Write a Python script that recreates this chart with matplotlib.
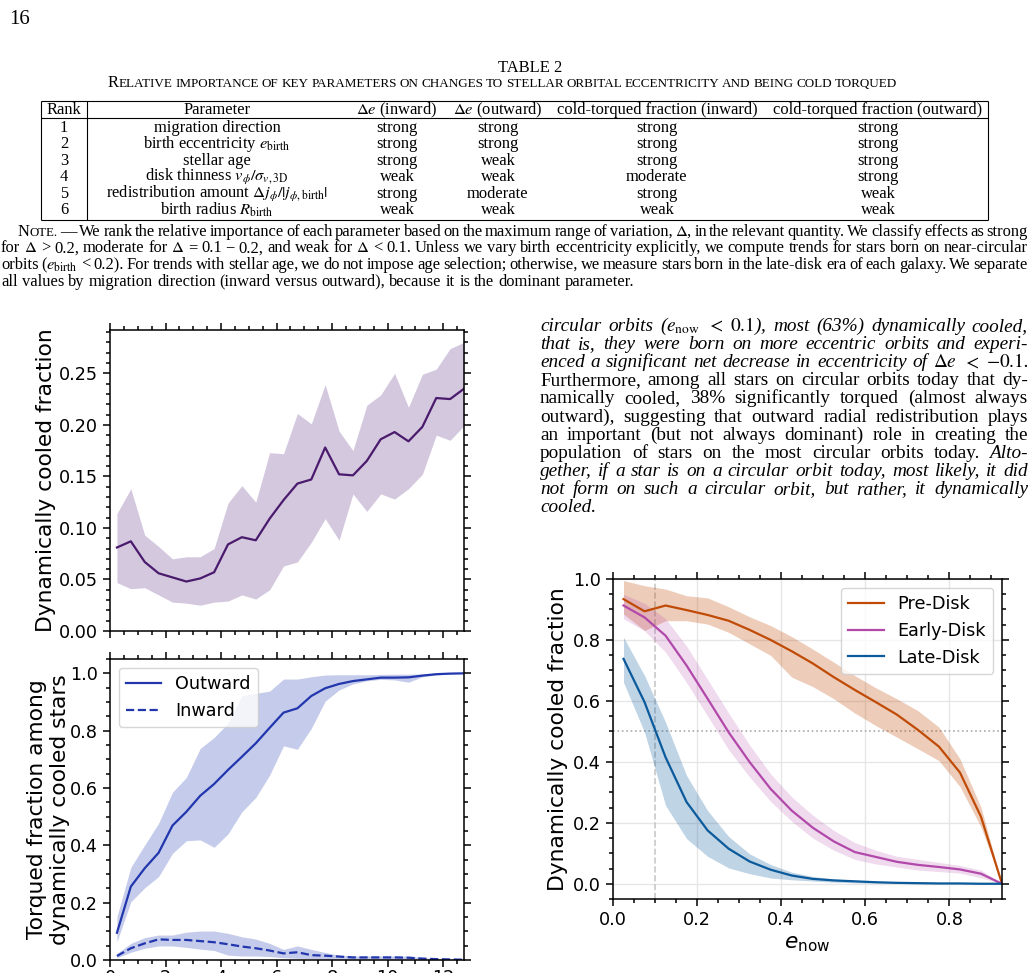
import numpy as np
import matplotlib
matplotlib.use("Agg")
import matplotlib.pyplot as plt
from matplotlib.ticker import MultipleLocator

# ---------------- data ----------------
# left panels: stellar age bins (Gyr)
age = [0.25, 0.75, 1.25, 1.75, 2.25, 2.75, 3.25, 3.75, 4.25, 4.75, 5.25, 5.75, 6.25,
       6.75, 7.25, 7.75, 8.25, 8.75, 9.25, 9.75, 10.25, 10.75, 11.25, 11.75, 12.25, 12.75]

cool_med = [0.081, 0.087, 0.067, 0.056, 0.052, 0.048, 0.051, 0.057, 0.084, 0.091, 0.088, 0.109, 0.127,
            0.143, 0.147, 0.178, 0.152, 0.151, 0.165, 0.186, 0.193, 0.184, 0.198, 0.226, 0.225, 0.235]
cool_hi = [0.114, 0.138, 0.093, 0.082, 0.070, 0.072, 0.072, 0.080, 0.124, 0.141, 0.125, 0.173, 0.172,
           0.211, 0.201, 0.239, 0.194, 0.175, 0.219, 0.229, 0.250, 0.217, 0.249, 0.254, 0.274, 0.280]
cool_lo = [0.047, 0.041, 0.042, 0.035, 0.028, 0.027, 0.025, 0.028, 0.029, 0.035, 0.031, 0.040, 0.063,
           0.067, 0.086, 0.109, 0.088, 0.133, 0.116, 0.133, 0.128, 0.138, 0.152, 0.190, 0.185, 0.199]

out_med = [0.095, 0.256, 0.320, 0.374, 0.469, 0.517, 0.573, 0.614, 0.663, 0.709, 0.756, 0.810, 0.863,
           0.878, 0.921, 0.948, 0.963, 0.973, 0.979, 0.985, 0.985, 0.986, 0.992, 0.997, 0.999, 1.0]
out_hi = [0.151, 0.323, 0.401, 0.477, 0.585, 0.637, 0.738, 0.776, 0.826, 0.922, 0.930, 0.938, 0.980,
          0.980, 0.988, 0.994, 0.995, 0.995, 0.995, 0.996, 0.997, 0.997, 0.998, 0.999, 1.0, 1.0]
out_lo = [0.064, 0.203, 0.252, 0.291, 0.372, 0.416, 0.419, 0.393, 0.440, 0.517, 0.567, 0.645, 0.747,
          0.735, 0.808, 0.903, 0.942, 0.963, 0.974, 0.979, 0.977, 0.969, 0.988, 0.994, 0.998, 1.0]

in_med = [0.014, 0.041, 0.058, 0.072, 0.070, 0.070, 0.066, 0.062, 0.055, 0.047, 0.041, 0.033, 0.023,
          0.027, 0.017, 0.015, 0.012, 0.009, 0.009, 0.009, 0.009, 0.008, 0.005, 0.003, 0.002, 0.001]
in_hi = [0.023, 0.058, 0.078, 0.087, 0.087, 0.097, 0.101, 0.101, 0.093, 0.081, 0.073, 0.058, 0.037,
         0.049, 0.037, 0.026, 0.017, 0.014, 0.014, 0.014, 0.014, 0.014, 0.008, 0.006, 0.003, 0.001]
in_lo = [0.008, 0.027, 0.041, 0.049, 0.049, 0.044, 0.038, 0.033, 0.017, 0.014, 0.014, 0.012, 0.008,
         0.006, 0.005, 0.002, 0.002, 0.001, 0.001, 0.001, 0.001, 0.001, 0.0, 0.0, 0.0, 0.0]

# right panel: present-day eccentricity bins
e_now = [0.025, 0.075, 0.125, 0.175, 0.225, 0.275, 0.325, 0.375, 0.425, 0.475,
         0.525, 0.575, 0.625, 0.675, 0.725, 0.775, 0.825, 0.875, 0.925]
pre_med = [0.934, 0.894, 0.913, 0.898, 0.882, 0.863, 0.833, 0.800, 0.763, 0.723,
           0.678, 0.636, 0.596, 0.555, 0.505, 0.450, 0.365, 0.220, 0.0]
pre_hi = [0.995, 0.978, 0.967, 0.945, 0.938, 0.909, 0.876, 0.847, 0.811, 0.770,
          0.727, 0.683, 0.643, 0.607, 0.568, 0.514, 0.410, 0.251, 0.0]
pre_lo = [0.885, 0.831, 0.863, 0.863, 0.852, 0.825, 0.787, 0.749, 0.678, 0.647,
          0.607, 0.560, 0.519, 0.481, 0.443, 0.404, 0.319, 0.186, 0.0]
early_med = [0.913, 0.874, 0.814, 0.716, 0.607, 0.497, 0.399, 0.311, 0.240, 0.184,
             0.139, 0.104, 0.088, 0.072, 0.062, 0.055, 0.047, 0.033, 0.0]
early_hi = [0.950, 0.920, 0.870, 0.780, 0.670, 0.560, 0.455, 0.360, 0.285, 0.225,
            0.175, 0.135, 0.110, 0.090, 0.080, 0.070, 0.060, 0.045, 0.0]
early_lo = [0.870, 0.830, 0.760, 0.660, 0.550, 0.440, 0.350, 0.270, 0.205, 0.150,
            0.110, 0.080, 0.065, 0.055, 0.045, 0.040, 0.035, 0.020, 0.0]
late_med = [0.738, 0.596, 0.415, 0.268, 0.175, 0.115, 0.073, 0.046, 0.027, 0.016,
            0.011, 0.008, 0.005, 0.003, 0.002, 0.001, 0.001, 0.0, 0.0]
late_hi = [0.809, 0.683, 0.530, 0.355, 0.240, 0.155, 0.098, 0.063, 0.038, 0.024,
           0.016, 0.011, 0.008, 0.005, 0.004, 0.003, 0.002, 0.001, 0.0]
late_lo = [0.661, 0.497, 0.257, 0.148, 0.090, 0.052, 0.033, 0.019, 0.013, 0.009,
           0.005, 0.003, 0.002, 0.001, 0.0, 0.0, 0.0, 0.0, 0.0]

# table 2
table_head = ["Rank", "Parameter", r"$\Delta e$ (inward)", r"$\Delta e$ (outward)",
              "cold-torqued fraction (inward)", "cold-torqued fraction (outward)"]
table_rows = [
    ["1", "migration direction", "strong", "strong", "strong", "strong"],
    ["2", r"birth eccentricity $e_\mathrm{birth}$", "strong", "strong", "strong", "strong"],
    ["3", "stellar age", "strong", "weak", "strong", "strong"],
    ["4", r"disk thinness $v_\phi/\sigma_{v,\mathrm{3D}}$", "weak", "weak", "moderate", "strong"],
    ["5", r"redistribution amount $\Delta j_\phi/|j_{\phi,\mathrm{birth}}|$", "strong", "moderate", "strong", "weak"],
    ["6", r"birth radius $R_\mathrm{birth}$", "weak", "weak", "weak", "weak"],
]
caption = ("RELATIVE IMPORTANCE OF KEY PARAMETERS ON CHANGES TO STELLAR ORBITAL "
           "ECCENTRICITY AND BEING COLD TORQUED")
note_lines = [
    r"We rank the relative importance of each parameter based on the maximum range of variation, $\Delta$, in the relevant quantity. We classify effects as strong",
    r"for $\Delta$ > 0.2, moderate for $\Delta$ = 0.1 − 0.2, and weak for $\Delta$ < 0.1. Unless we vary birth eccentricity explicitly, we compute trends for stars born on near-circular",
    r"orbits ($e_\mathrm{birth}$ < 0.2). For trends with stellar age, we do not impose age selection; otherwise, we measure stars born in the late-disk era of each galaxy. We separate",
    r"all values by migration direction (inward versus outward), because it is the dominant parameter.",
]
# '*' flips roman/italic for one word
para_lines = [
    ("italic", r"circular orbits ($e_\mathrm{now}$ $<$ $0.1$), most (63%) dynamically cooled,"),
    ("italic", "that is, they were born on more eccentric orbits and experi-"),
    ("italic", r"enced a significant net decrease in eccentricity of $\Delta{e}$ $<$ $-0.1$."),
    ("normal", "Furthermore, among all stars on circular orbits today that dy-"),
    ("normal", "namically cooled, 38% significantly torqued (almost always"),
    ("normal", "outward), suggesting that outward radial redistribution plays"),
    ("normal", "an important (but not always dominant) role in creating the"),
    ("normal", "population of stars on the most circular orbits today. *Alto-"),
    ("italic", "gether, if a star is on a circular orbit today, most likely, it did"),
    ("italic", "not form on such a circular orbit, but rather, it dynamically"),
    ("italic", "cooled."),
]

# ---------------- page ----------------
W, H = 1036, 973
fig = plt.figure(figsize=(W / 100, H / 100), dpi=100)
page = fig.add_axes([0, 0, 1, 1])
page.set_xlim(0, W)
page.set_ylim(H, 0)
page.axis("off")
rend = fig.canvas.get_renderer()
SERIF = "Liberation Serif"
probe = page.text(0, 0, "", family=SERIF, math_fontfamily="stix")


def width(s, style, size):
    probe.set_text(s)
    probe.set_fontsize(size)
    probe.set_style(style)
    return probe.get_window_extent(rend).width


def split_words(text, style, scale=1.0):
    words = []
    for w in text.split(" "):
        st = style
        if w.startswith("*"):
            st = "normal" if style == "italic" else "italic"
            w = w[1:]
        words.append([(w, st, scale)])
    return words


def natural(words, size):
    tot = sum(width(s, st, size * sc) for w in words for s, st, sc in w)
    return tot + 0.25 * size / 0.72 * (len(words) - 1)


def calib(lines, size=10.0):
    # size at which justified lines would fill their width with plain spaces
    r = [(x1 - x0) / natural(ws, size) for ws, x0, x1 in lines]
    return size * float(np.median(r))


def put(words, x0, x1, y, size, how="justify"):
    ws = [[width(s, st, size * sc) for s, st, sc in w] for w in words]
    tot = sum(map(sum, ws))
    gap = 0.25 * size / 0.72
    x = x0
    if how == "justify" and len(words) > 1:
        gap = (x1 - x0 - tot) / (len(words) - 1)
    elif how == "center":
        x = (x0 + x1) / 2 - (tot + gap * (len(words) - 1)) / 2
    for w, wl in zip(words, ws):
        for (s, st, sc), wd in zip(w, wl):
            page.text(x, y, s, fontsize=size * sc, style=st, family=SERIF,
                      math_fontfamily="stix", va="baseline")
            x += wd
        x += gap


# note under the table
note_words = [split_words(t, "normal") for t in note_lines]
note_words[0] = [[("N", "normal", 1.0), ("OTE.", "normal", 0.78)], [("—", "normal", 1.0)]] + note_words[0]
note_x = [(18, 1028), (1, 1028), (1, 1028), (1, 1028)]
fs_note = 1.03 * calib([(note_words[i], *note_x[i]) for i in range(3)])
note_y = [236, 252.5, 269, 285.5]
for i, ws in enumerate(note_words):
    put(ws, note_x[i][0], note_x[i][1], note_y[i], fs_note, "justify" if i < 3 else "left")

# right-hand paragraph (TeX stretches its spaces, so use a slightly smaller face)
para_words = [split_words(t, st) for st, t in para_lines]
fs_para = 0.95 * calib([(ws, 540, 1028) for ws in para_words[:-1]])
for i, ws in enumerate(para_words):
    put(ws, 540, 1028, 331 + 18.1 * i, fs_para, "justify" if i < len(para_words) - 1 else "left")

# header
page.text(9, 24, "16", fontsize=15, family=SERIF, va="baseline")
page.text(530, 72, "TABLE 2", fontsize=fs_note, family=SERIF, ha="center", va="baseline")
cap_words = [[("R", "normal", 1.0), (caption.split()[0][1:], "normal", 0.8)]]
cap_words += [[(w, "normal", 0.8)] for w in caption.split()[1:]]
put(cap_words, 108, 897, 87, fs_note, "justify")

# table body
col_x = [64, 217, 397, 498, 657, 878]
page.hlines([101, 118, 219.5], 41, 988, color="black", lw=0.8)
page.vlines([41, 87, 988], 101, 219.5, color="black", lw=0.8)
for cx, s in zip(col_x, table_head):
    page.text(cx, 114, s, fontsize=fs_note, family=SERIF, math_fontfamily="stix",
              ha="center", va="baseline")
for r, row in enumerate(table_rows):
    for cx, s in zip(col_x, row):
        page.text(cx, 131.5 + 16.6 * r, s, fontsize=fs_note, family=SERIF,
                  math_fontfamily="stix", ha="center", va="baseline")
probe.remove()


# ---------------- plots ----------------
def dress(ax):
    ax.tick_params(which="both", direction="out", top=True, right=True, width=1.1)
    ax.tick_params(which="major", length=5, labelsize=12.7)
    ax.tick_params(which="minor", length=3)
    for sp in ax.spines.values():
        sp.set_linewidth(1.1)


LAB = 15.7

ax1 = fig.add_axes([110 / W, 1 - 631 / H, 354 / W, 301 / H])
ax1.fill_between(age, cool_lo, cool_hi, color="#d4c8df", lw=0)
ax1.plot(age, cool_med, color="#4a1a6d", lw=1.6)
ax1.set_xlim(0, 12.75)
ax1.set_ylim(0, 0.292)
ax1.xaxis.set_major_locator(MultipleLocator(2))
ax1.xaxis.set_minor_locator(MultipleLocator(0.5))
ax1.yaxis.set_major_locator(MultipleLocator(0.05))
ax1.yaxis.set_minor_locator(MultipleLocator(0.01))
dress(ax1)
ax1.tick_params(labelbottom=False)
ax1.set_ylabel("Dynamically cooled fraction", fontsize=LAB)
ax1.yaxis.set_label_coords(-0.152, 0.5)

ax2 = fig.add_axes([110 / W, 1 - 960 / H, 354 / W, 301 / H])
ax2.fill_between(age, out_lo, out_hi, color="#c5cbea", lw=0)
ax2.fill_between(age, in_lo, in_hi, color="#c5cbea", lw=0)
ax2.plot(age, out_med, color="#2236ae", lw=1.6, label="Outward")
ax2.plot(age, in_med, color="#2236ae", lw=1.6, ls="--", label="Inward")
ax2.set_xlim(0, 12.75)
ax2.set_ylim(0, 1.05)
ax2.xaxis.set_major_locator(MultipleLocator(2))
ax2.xaxis.set_minor_locator(MultipleLocator(0.5))
ax2.yaxis.set_major_locator(MultipleLocator(0.2))
ax2.yaxis.set_minor_locator(MultipleLocator(0.05))
dress(ax2)
ax2.tick_params(axis="x", which="major", pad=1.5)
ax2.legend(loc="upper left", fontsize=12.7)
ax2.set_ylabel("Torqued fraction among\ndynamically cooled stars", fontsize=LAB)
ax2.yaxis.set_label_coords(-0.113, 0.5)

ax3 = fig.add_axes([613 / W, 1 - 899 / H, 389 / W, 320 / H])
ax3.set_axisbelow(True)
ax3.grid(True, color="#e6e6e6", lw=1.0)
ax3.axvline(0.1, color="#c8c8c8", ls="--", lw=1.2, zorder=1)
ax3.axhline(0.5, color="#aaaaaa", ls=":", lw=1.2, zorder=1)
series = [("Pre-Disk", pre_med, pre_lo, pre_hi, "#c04b06", 0.28),
          ("Early-Disk", early_med, early_lo, early_hi, "#b249aa", 0.2),
          ("Late-Disk", late_med, late_lo, late_hi, "#0b5a9c", 0.26)]
for name, med, lo, hi, col, a in series:
    ax3.fill_between(e_now, lo, hi, color=col, alpha=a, lw=0)
for name, med, lo, hi, col, a in series:
    ax3.plot(e_now, med, color=col, lw=1.6, label=name)
ax3.set_xlim(0, 0.925)
ax3.set_ylim(-0.05, 1.0)
ax3.xaxis.set_major_locator(MultipleLocator(0.2))
ax3.xaxis.set_minor_locator(MultipleLocator(0.05))
ax3.yaxis.set_major_locator(MultipleLocator(0.2))
ax3.yaxis.set_minor_locator(MultipleLocator(0.05))
dress(ax3)
ax3.legend(loc="upper right", fontsize=12.7)
ax3.set_xlabel(r"$e_\mathrm{now}$", fontsize=LAB)
ax3.set_ylabel("Dynamically cooled fraction", fontsize=LAB)
ax3.yaxis.set_label_coords(-0.116, 0.5)

fig.savefig("out.png", dpi=100)
